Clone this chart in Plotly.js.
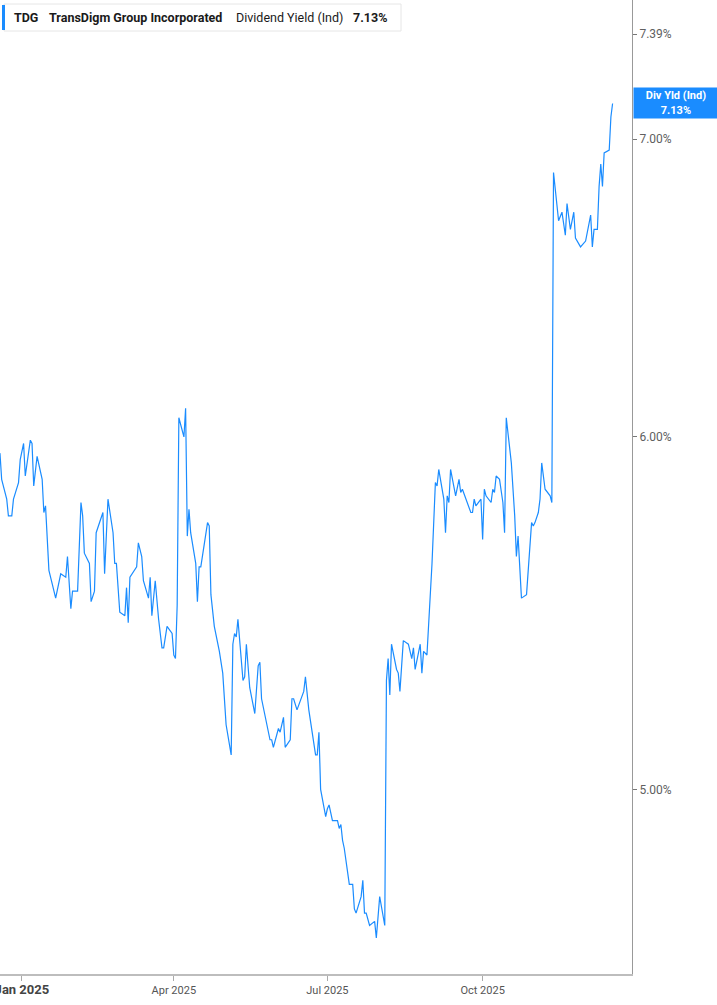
<!DOCTYPE html>
<html>
<head>
<meta charset="utf-8">
<script src="https://cdn.plot.ly/plotly-3.0.1.min.js"></script>
<style>
html,body{margin:0;padding:0;background:#fff;}
#chart{width:717px;height:1005px;}
</style>
</head>
<body>
<div id="chart"></div>
<script>
// ---- data ----
const dates = [
"2024-12-19","2024-12-20","2024-12-23","2024-12-24","2024-12-26","2024-12-27","2024-12-30","2024-12-31",
"2025-01-02","2025-01-03","2025-01-06","2025-01-07","2025-01-08","2025-01-10","2025-01-13","2025-01-14",
"2025-01-15","2025-01-17","2025-01-19","2025-01-21","2025-01-24","2025-01-27","2025-01-28","2025-01-30",
"2025-01-31","2025-02-03","2025-02-05","2025-02-06","2025-02-07","2025-02-10","2025-02-11","2025-02-13",
"2025-02-14","2025-02-18","2025-02-19","2025-02-21","2025-02-24","2025-02-25","2025-02-26","2025-02-28",
"2025-03-03","2025-03-04","2025-03-05","2025-03-06","2025-03-10","2025-03-11","2025-03-13","2025-03-14",
"2025-03-17","2025-03-18","2025-03-19","2025-03-21","2025-03-23","2025-03-25","2025-03-26","2025-03-28",
"2025-03-31","2025-04-01","2025-04-02","2025-04-03","2025-04-04","2025-04-07","2025-04-08","2025-04-09",
"2025-04-10","2025-04-11","2025-04-14","2025-04-15","2025-04-16","2025-04-17","2025-04-21","2025-04-22",
"2025-04-23","2025-04-25","2025-04-28","2025-04-30","2025-05-02","2025-05-04","2025-05-05","2025-05-06",
"2025-05-07","2025-05-08","2025-05-09","2025-05-12","2025-05-13","2025-05-14","2025-05-16","2025-05-19",
"2025-05-21","2025-05-22","2025-05-23","2025-05-28","2025-05-29","2025-05-30","2025-06-02","2025-06-03",
"2025-06-05","2025-06-06","2025-06-09","2025-06-10","2025-06-11","2025-06-13","2025-06-16","2025-06-17",
"2025-06-18","2025-06-20","2025-06-24","2025-06-25","2025-06-26","2025-06-27","2025-06-30","2025-07-01",
"2025-07-02","2025-07-04","2025-07-07","2025-07-08","2025-07-09","2025-07-10","2025-07-11","2025-07-14",
"2025-07-16","2025-07-17","2025-07-18","2025-07-21","2025-07-22","2025-07-23","2025-07-24","2025-07-26",
"2025-07-29","2025-07-30","2025-08-01","2025-08-04","2025-08-05","2025-08-06","2025-08-07","2025-08-08",
"2025-08-11","2025-08-12","2025-08-13","2025-08-15","2025-08-18","2025-08-20","2025-08-21","2025-08-22",
"2025-08-25","2025-08-26","2025-08-27","2025-08-29","2025-09-01","2025-09-03","2025-09-04","2025-09-05",
"2025-09-08","2025-09-09","2025-09-10","2025-09-11","2025-09-12","2025-09-15","2025-09-17","2025-09-18",
"2025-09-19","2025-09-24","2025-09-25","2025-09-26","2025-09-27","2025-09-30","2025-10-01","2025-10-02",
"2025-10-03","2025-10-06","2025-10-07","2025-10-08","2025-10-09","2025-10-11","2025-10-13","2025-10-14",
"2025-10-15","2025-10-18","2025-10-20","2025-10-21","2025-10-22","2025-10-24","2025-10-27","2025-10-30",
"2025-10-31","2025-11-01","2025-11-03","2025-11-04","2025-11-05","2025-11-07","2025-11-10","2025-11-11",
"2025-11-12","2025-11-14","2025-11-15","2025-11-17","2025-11-19","2025-11-20","2025-11-22","2025-11-24",
"2025-11-25","2025-11-28","2025-12-01","2025-12-04","2025-12-05","2025-12-06","2025-12-08","2025-12-09",
"2025-12-10","2025-12-11","2025-12-12","2025-12-15","2025-12-16","2025-12-17"
];
const divYield = [
5.95,5.87,5.81,5.76,5.76,5.81,5.86,5.93,
5.98,5.88,5.99,5.98,5.85,5.94,5.87,5.77,
5.79,5.60,5.56,5.52,5.59,5.58,5.64,5.49,
5.54,5.54,5.80,5.76,5.65,5.62,5.51,5.54,
5.71,5.77,5.59,5.81,5.71,5.62,5.62,5.48,
5.47,5.55,5.45,5.58,5.61,5.68,5.64,5.57,
5.52,5.58,5.47,5.57,5.46,5.38,5.38,5.44,
5.42,5.36,5.35,5.50,6.06,6.00,6.09,5.70,
5.78,5.71,5.62,5.51,5.61,5.61,5.74,5.73,
5.53,5.44,5.37,5.31,5.17,5.11,5.09,5.39,
5.42,5.41,5.46,5.29,5.30,5.39,5.27,5.20,
5.33,5.34,5.24,5.13,5.13,5.11,5.16,5.15,
5.19,5.11,5.13,5.24,5.24,5.21,5.25,5.26,
5.30,5.21,5.09,5.09,5.15,5.00,4.93,4.95,
4.96,4.92,4.92,4.90,4.91,4.87,4.85,4.76,
4.76,4.70,4.69,4.73,4.77,4.69,4.69,4.66,
4.67,4.63,4.73,4.66,5.29,5.35,5.25,5.39,
5.32,5.31,5.26,5.40,5.39,5.35,5.38,5.32,
5.39,5.31,5.37,5.36,5.62,5.86,5.85,5.90,
5.81,5.71,5.82,5.80,5.90,5.82,5.87,5.83,
5.84,5.77,5.77,5.81,5.79,5.81,5.69,5.84,
5.82,5.80,5.84,5.83,5.88,5.87,5.80,5.71,
6.06,5.92,5.76,5.64,5.70,5.52,5.53,5.74,
5.73,5.74,5.77,5.81,5.92,5.84,5.82,5.80,
6.88,6.77,6.71,6.74,6.66,6.77,6.68,6.74,
6.65,6.62,6.64,6.73,6.62,6.68,6.68,6.83,
6.91,6.83,6.95,6.96,7.08,7.13
];
const yTickVals = [5, 6, 7, 7.39];
const yTickText = ["5.00%", "6.00%", "7.00%", "7.39%"];
const xTickVals = ["2025-01-01", "2025-04-01", "2025-07-01", "2025-10-01"];
const xTickText = ["<span style=\"font-size:13px;fill:#444\"><b>Jan 2025</b></span>", "Apr 2025", "Jul 2025", "Oct 2025"];
const ticker = "TDG";
const company = "TransDigm Group Incorporated";
const metric = "Dividend Yield (Ind)";
const lastLabel = "Div Yld (Ind)";

const lastVal = divYield[divYield.length - 1];
const lastTxt = lastVal.toFixed(2) + "%";
const BLUE = "#1a8cff";

// layout geometry
const W = 717, H = 1005, ML = 0, MR = 85, MT = 0, MB = 31;
const PW = W - ML - MR, PH = H - MT - MB;
const px = x => x / PW;           // pixel -> paper x
const py = y => 1 - y / PH;       // pixel -> paper y

const trace = {
  x: dates, y: divYield, type: "scatter", mode: "lines",
  line: {color: BLUE, width: 1.2}, hoverinfo: "skip"
};

const font = "Roboto, 'Liberation Sans', Arial, sans-serif";
const hdr = {family: font, size: 12.5, color: "#1a1a1a"};
const layout = {
  width: W, height: H,
  margin: {l: ML, r: MR, t: MT, b: MB, pad: 0},
  paper_bgcolor: "#fff", plot_bgcolor: "#fff",
  showlegend: false,
  font: {family: font, size: 11, color: "#555"},
  xaxis: {
    type: "date",
    range: ["2024-12-19 00:30", "2025-12-28 12:00"],
    tickmode: "array", tickvals: xTickVals, ticktext: xTickText,
    showgrid: false, zeroline: false,
    showline: true, linecolor: "#bdbdbd", linewidth: 2,
    ticks: "outside", ticklen: 5, tickcolor: "#aaa", tickwidth: 1,
    tickfont: {family: font, size: 11, color: "#555"},
    ticklabeloverflow: "allow",
    automargin: false, fixedrange: true
  },
  yaxis: {
    type: "log", side: "right",
    range: [Math.log10(4.5445), Math.log10(7.522)],
    tickmode: "array", tickvals: yTickVals, ticktext: yTickText,
    showgrid: false, zeroline: false,
    showline: true, linecolor: "#999", linewidth: 1,
    ticks: "outside", ticklen: 4, tickcolor: "#777", tickwidth: 1,
    tickfont: {family: font, size: 12, color: "#606060"},
    ticklabeloverflow: "allow",
    automargin: false, fixedrange: true
  },
  shapes: [
    {type: "rect", xref: "paper", yref: "paper",
     x0: px(4), x1: px(401), y0: py(31), y1: py(4),
     line: {color: "#e6e6e6", width: 1}, fillcolor: "#fff", layer: "above"},
    {type: "rect", xref: "paper", yref: "paper",
     x0: px(2), x1: px(5), y0: py(30), y1: py(5),
     line: {width: 0}, fillcolor: BLUE, layer: "above"}
  ],
  annotations: [
    {xref: "paper", yref: "paper", x: px(12), y: py(17), xanchor: "left", yanchor: "middle",
     text: "<b>" + ticker + "</b>", showarrow: false, font: hdr},
    {xref: "paper", yref: "paper", x: px(47), y: py(17), xanchor: "left", yanchor: "middle",
     text: "<b>" + company + "</b>", showarrow: false, font: hdr},
    {xref: "paper", yref: "paper", x: px(234), y: py(17), xanchor: "left", yanchor: "middle",
     text: metric, showarrow: false, font: hdr},
    {xref: "paper", yref: "paper", x: px(351), y: py(17), xanchor: "left", yanchor: "middle",
     text: "<b>" + lastTxt + "</b>", showarrow: false, font: hdr},
    {xref: "paper", yref: "y", x: 1, xshift: 1, y: Math.log10(lastVal),
     xanchor: "left", yanchor: "middle",
     text: "<b>" + lastLabel + "<br>" + lastTxt + "</b>", showarrow: false,
     bgcolor: BLUE, width: 80, height: 26, borderpad: 2, align: "center",
     font: {family: font, size: 11, color: "#fff"}}
  ]
};

Plotly.newPlot("chart", [trace], layout, {displayModeBar: false, staticPlot: true});
</script>
</body>
</html>
